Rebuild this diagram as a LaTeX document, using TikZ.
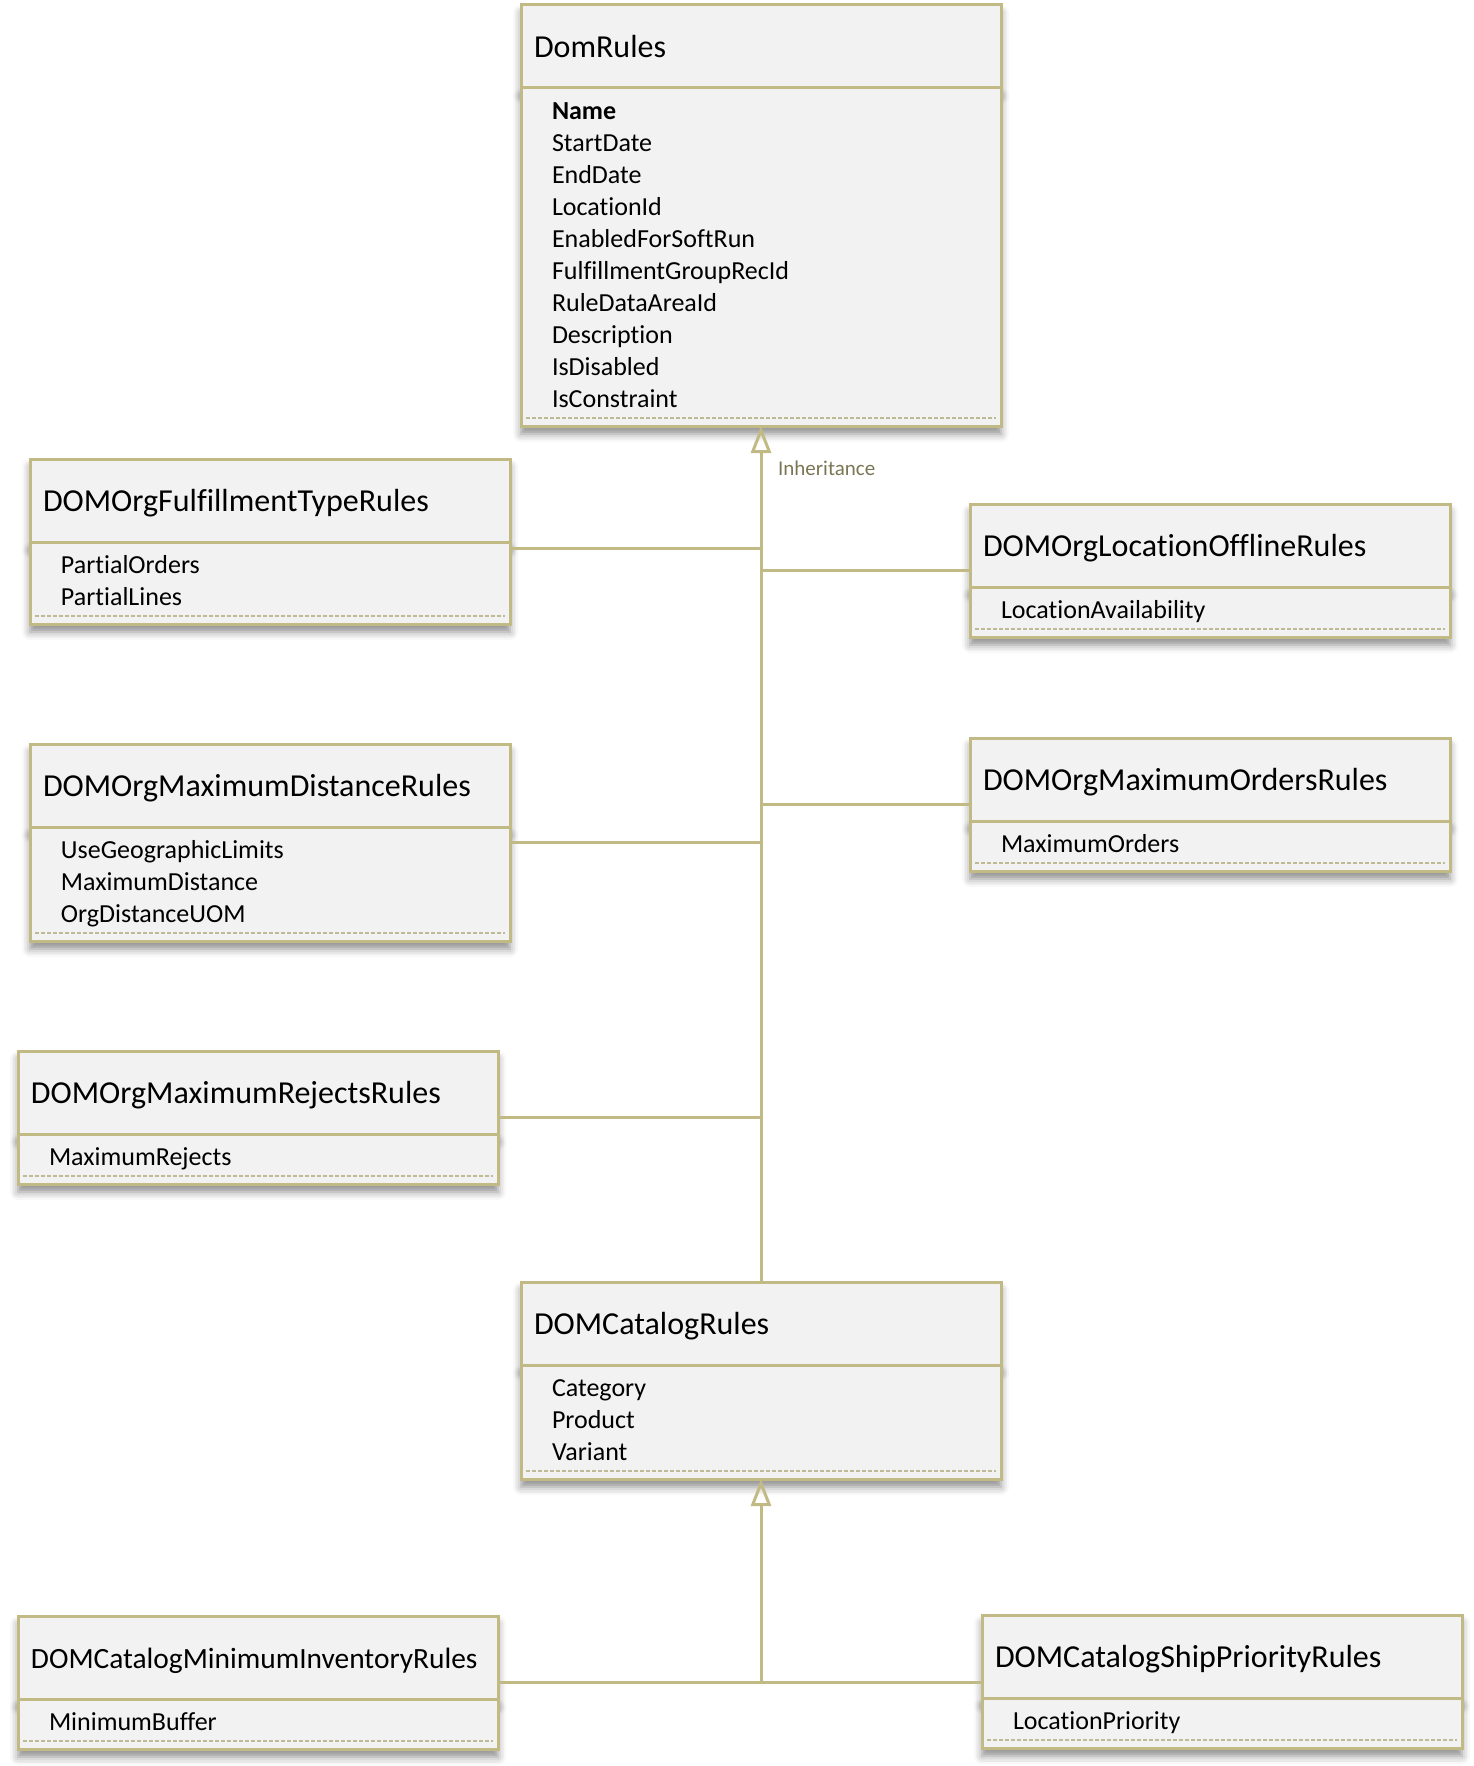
\documentclass[tikz,border=0pt]{standalone}
\usepackage{fontspec}
\setmainfont{Carlito}[Ligatures=NoCommon]
\usetikzlibrary{positioning,calc,arrows.meta,shadows.blur}
\definecolor{dmolive}{RGB}{193,186,132}
\definecolor{dmfill}{RGB}{242,242,242}
\definecolor{dmdash}{RGB}{190,186,150}
\definecolor{dmtext}{RGB}{122,118,84}

\begin{document}
\begin{tikzpicture}[x=0.5pt, y=-0.5pt,
    dmshadow/.style={blur shadow={shadow xshift=0pt, shadow yshift=-4pt,
      shadow blur radius=4pt, shadow opacity=45}},
    clshead/.style={draw=dmolive, line width=1.5pt, fill=dmfill, anchor=north west,
      outer sep=0pt, minimum height=41.5pt, inner ysep=0pt, inner xsep=6.5pt,
      text width=227pt, align=left, text height=14.8pt, text depth=4pt,
      font=\fontsize{16}{19}\selectfont, dmshadow},
    clsbody/.style={draw=dmolive, line width=1.5pt, fill=dmfill, outer sep=0pt,
      inner ysep=3.5pt, inner xsep=15.5pt, text width=209pt, align=left,
      font=\fontsize{13}{16}\selectfont, dmshadow,
      execute at begin node={\rule{0pt}{12.3pt}}, execute at end node={\rule[-5.7pt]{0pt}{0pt}}},
    dashrule/.style={dmdash, line width=1.2pt, dash pattern=on 2pt off 1pt},
    inhline/.style={dmolive, line width=1.5pt},
    inharrow/.style={inhline, -{Triangle[open, length=13.5pt, width=10pt]}}]
    \useasboundingbox (0,0) rectangle (1473,1766);

    \node[clshead] (domh) at (521,5) {DomRules};
    \node[clsbody, below=0pt of domh] (domb) {\textbf{Name}\\StartDate\\EndDate\\LocationId\\EnabledForSoftRun\\FulfillmentGroupRecId\\RuleDataAreaId\\Description\\IsDisabled\\IsConstraint};

    \node[clshead] (fth) at (30,459) {DOMOrgFulfillmentTypeRules};
    \node[clsbody, below=0pt of fth] (ftb) {PartialOrders\\PartialLines};

    \node[clshead] (loch) at (970,504) {DOMOrgLocationOfflineRules};
    \node[clsbody, below=0pt of loch] (locb) {LocationAvailability};

    \node[clshead] (disth) at (30,744) {DOMOrgMaximumDistanceRules};
    \node[clsbody, below=0pt of disth] (distb) {UseGeographicLimits\\MaximumDistance\\OrgDistanceUOM};

    \node[clshead] (ordh) at (970,738) {DOMOrgMaximumOrdersRules};
    \node[clsbody, below=0pt of ordh] (ordb) {MaximumOrders};

    \node[clshead] (rejh) at (18,1051) {DOMOrgMaximumRejectsRules};
    \node[clsbody, below=0pt of rejh] (rejb) {MaximumRejects};

    \node[clshead] (cath) at (521,1282) {DOMCatalogRules};
    \node[clsbody, below=0pt of cath] (catb) {Category\\Product\\Variant};

    \node[clshead, font=\fontsize{14.7}{18}\selectfont] (minh) at (18,1616) {DOMCatalogMinimumInventoryRules};
    \node[clsbody, below=0pt of minh] (minb) {MinimumBuffer};

    \node[clshead] (shiph) at (982,1615) {DOMCatalogShipPriorityRules};
    \node[clsbody, below=0pt of shiph] (shipb) {LocationPriority};

    \foreach \b in {domb,ftb,locb,distb,ordb,rejb,catb,minb,shipb}
      \draw[dashrule] ([xshift=2.5pt,yshift=4pt]\b.south west) -- ([xshift=-2.5pt,yshift=4pt]\b.south east);

    \coordinate (ftc) at ($(fth.north east)!.5!(ftb.south east)+(0,7)$);
    \coordinate (locc) at ($(loch.north west)!.5!(locb.south west)$);
    \coordinate (distc) at ($(disth.north east)!.5!(distb.south east)$);
    \coordinate (ordc) at ($(ordh.north west)!.5!(ordb.south west)$);
    \coordinate (rejc) at ($(rejh.north east)!.5!(rejb.south east)$);
    \coordinate (minc) at ($(minh.north east)!.5!(minb.south east)$);

    \draw[inharrow] (cath.north) -- (domb.south);
    \foreach \c in {ftc,locc,distc,ordc,rejc}
      \draw[inhline] (\c) -- (\c -| domb.south);
    \node[anchor=west, text=dmtext, font=\fontsize{10.5}{12}\selectfont] (inhlbl)
      at ([xshift=5pt,yshift=-21pt]domb.south) {Inheritance};

    \draw[inhline] (minc) -- (minc -| shipb.west);
    \draw[inharrow] (minc -| catb.south) -- (catb.south);
  \end{tikzpicture}
\end{document}
